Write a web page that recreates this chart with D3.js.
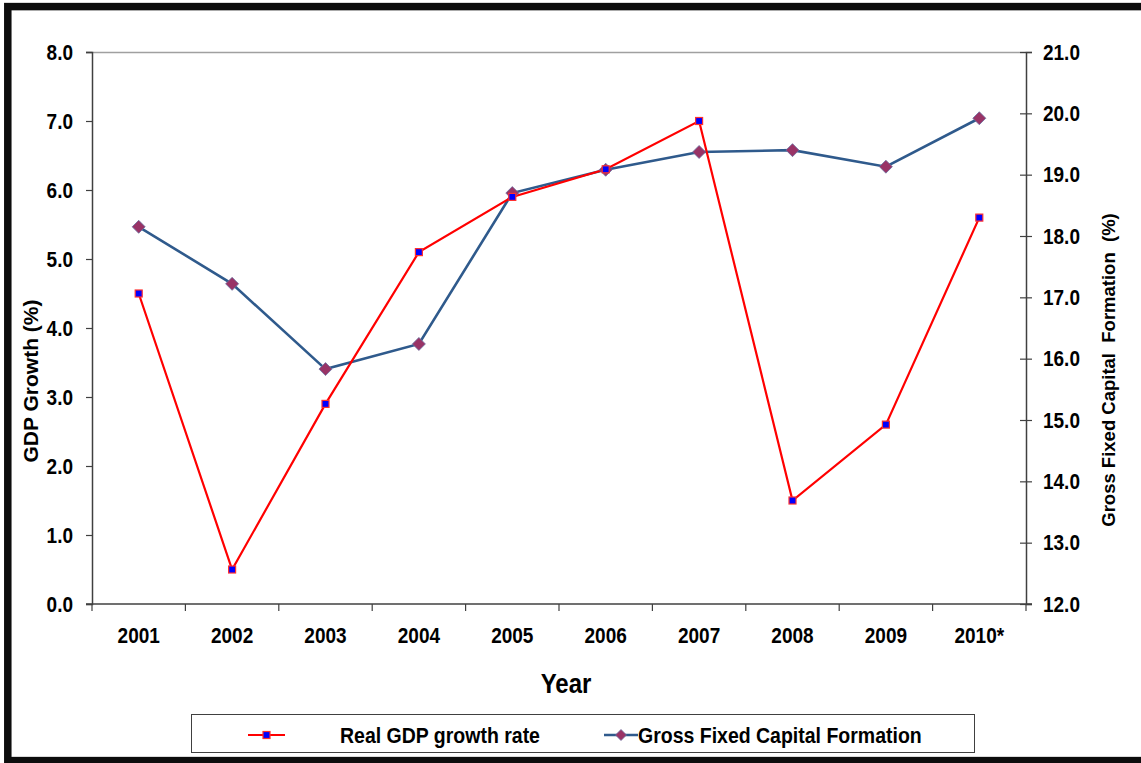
<!DOCTYPE html>
<html>
<head>
<meta charset="utf-8">
<script src="https://cdn.jsdelivr.net/npm/d3@7"></script>
<style>
  html, body { margin: 0; padding: 0; background: #fff; }
  svg { display: block; }
  text { font-family: Arial, "Liberation Sans", sans-serif; font-weight: bold; fill: #000; }
  text.tall { transform-box: fill-box; transform-origin: center; transform: scaleY(1.15); }
</style>
</head>
<body>
<svg id="chart" width="1141" height="763"></svg>
<script>
const years = ["2001","2002","2003","2004","2005","2006","2007","2008","2009","2010*"];
const gdpGrowth = [4.5, 0.5, 2.9, 5.1, 5.9, 6.3, 7.0, 1.5, 2.6, 5.6];
const gfcf = [18.15, 17.22, 15.83, 16.24, 18.7, 19.08, 19.37, 19.4, 19.13, 19.92];
const leftTicks = [0, 1, 2, 3, 4, 5, 6, 7, 8];
const rightTicks = [12, 13, 14, 15, 16, 17, 18, 19, 20, 21];
const seriesNames = ["Real GDP growth rate", "Gross Fixed Capital Formation"];

const svg = d3.select("#chart");
const plot = { left: 92, right: 1026, top: 52, bottom: 604 };

// frame
svg.append("rect").attr("x", 7.8).attr("y", 6.6).attr("width", 1150).attr("height", 754)
  .attr("fill", "none").attr("stroke", "#0d0d0d").attr("stroke-width", 7.5);

const x = d3.scaleBand().domain(years).range([plot.left, plot.right]);
const yL = d3.scaleLinear().domain([0, 8]).range([plot.bottom, plot.top]);
const yR = d3.scaleLinear().domain([12, 21]).range([plot.bottom, plot.top]);

// top border of plot area
svg.append("line").attr("x1", plot.left - 6).attr("x2", plot.right).attr("y1", plot.top + 0.5).attr("y2", plot.top + 0.5)
  .attr("stroke", "#a0a0a0").attr("stroke-width", 1.5);

// left axis
const gL = svg.append("g").attr("transform", `translate(${plot.left},0)`)
  .call(d3.axisLeft(yL).tickValues(leftTicks).tickFormat(d3.format(".1f")).tickSize(6).tickPadding(13));
gL.select(".domain").attr("stroke", "#404040").attr("stroke-width", 1.5);
gL.selectAll(".tick line").attr("stroke", "#404040").attr("stroke-width", 1.2);
gL.selectAll("text").attr("class", "tall").style("font-size", "19px").style("font-family", "Arial, 'Liberation Sans', sans-serif").style("font-weight", "bold").attr("fill", "#000");

// right axis
const gR = svg.append("g").attr("transform", `translate(${plot.right},0)`)
  .call(d3.axisRight(yR).tickValues(rightTicks).tickFormat(d3.format(".1f")).tickSize(6).tickPadding(11));
gR.select(".domain").attr("stroke", "#404040").attr("stroke-width", 1.5);
gR.selectAll(".tick line").attr("x1", -6).attr("stroke", "#404040").attr("stroke-width", 1.2);
gR.selectAll("text").attr("class", "tall").style("font-size", "19px").style("font-family", "Arial, 'Liberation Sans', sans-serif").style("font-weight", "bold").attr("fill", "#000");

// bottom axis
const gB = svg.append("g").attr("transform", `translate(0,${plot.bottom})`);
gB.append("line").attr("x1", plot.left - 6).attr("x2", plot.right + 6).attr("y1", 0).attr("y2", 0)
  .attr("stroke", "#404040").attr("stroke-width", 1.5);
const boundaries = years.map(d => x(d)).concat([plot.right]);
gB.selectAll("line.tk").data(boundaries).enter().append("line").attr("class", "tk")
  .attr("x1", d => d).attr("x2", d => d).attr("y1", 0).attr("y2", 7)
  .attr("stroke", "#404040").attr("stroke-width", 1.2);
gB.selectAll("text.yr").data(years).enter().append("text").attr("class", "yr tall")
  .attr("x", d => x(d) + x.bandwidth() / 2).attr("y", 38)
  .attr("text-anchor", "middle").style("font-size", "19px").text(d => d);

// axis titles
svg.append("text").attr("class", "tall").attr("x", 566).attr("y", 692).attr("text-anchor", "middle")
  .style("font-size", "24px").text("Year");
svg.append("text").attr("transform", "translate(38,381) rotate(-90)").attr("text-anchor", "middle")
  .style("font-size", "21px").text("GDP Growth (%)");
svg.append("text").attr("transform", "translate(1115,370) rotate(-90)").attr("text-anchor", "middle")
  .style("font-size", "18.5px").attr("xml:space", "preserve").style("white-space", "pre")
  .text("Gross Fixed Capital  Formation  (%)");

const cx = d => x(d) + x.bandwidth() / 2;
const blue = "#2f5a8c";
const diamond = (s) => `M0,${-s}L${s},0L0,${s}L${-s},0Z`;

// GFCF line
svg.append("path").datum(years.map((d, i) => [cx(d), yR(gfcf[i])]))
  .attr("d", d3.line()).attr("fill", "none").attr("stroke", blue).attr("stroke-width", 2.6);

// GDP line
svg.append("path").datum(years.map((d, i) => [cx(d), yL(gdpGrowth[i])]))
  .attr("d", d3.line()).attr("fill", "none").attr("stroke", "#ff0000").attr("stroke-width", 2.2);

svg.selectAll("path.dm").data(years).enter().append("path").attr("class", "dm")
  .attr("transform", (d, i) => `translate(${cx(d)},${yR(gfcf[i])})`)
  .attr("d", diamond(6.5)).attr("fill", "#993366").attr("stroke", "#6a6fa0").attr("stroke-width", 0.8);

svg.selectAll("rect.sq").data(years).enter().append("rect").attr("class", "sq")
  .attr("x", d => cx(d) - 3.5).attr("y", (d, i) => yL(gdpGrowth[i]) - 3.5)
  .attr("width", 7).attr("height", 7).attr("fill", "#0000ff").attr("stroke", "#ff3030").attr("stroke-width", 1.2);

// legend
const lg = svg.append("g");
lg.append("rect").attr("x", 191.5).attr("y", 714.5).attr("width", 783).attr("height", 38)
  .attr("fill", "#fff").attr("stroke", "#404040").attr("stroke-width", 1);
lg.append("line").attr("x1", 248).attr("x2", 285).attr("y1", 735).attr("y2", 735).attr("stroke", "#ff0000").attr("stroke-width", 2.2);
lg.append("rect").attr("x", 263).attr("y", 731.5).attr("width", 7).attr("height", 7).attr("fill", "#0000ff").attr("stroke", "#ff3030").attr("stroke-width", 1.2);
lg.append("text").attr("class", "tall").attr("x", 340).attr("y", 742).style("font-size", "19.5px").text(seriesNames[0]);
lg.append("line").attr("x1", 604).attr("x2", 638).attr("y1", 735).attr("y2", 735).attr("stroke", blue).attr("stroke-width", 2.6);
lg.append("path").attr("transform", "translate(621,735)").attr("d", diamond(5.5)).attr("fill", "#993366").attr("stroke", "#6a6fa0").attr("stroke-width", 0.8);
lg.append("text").attr("class", "tall").attr("x", 638).attr("y", 742).style("font-size", "19.5px").text(seriesNames[1]);
</script>
</body>
</html>
